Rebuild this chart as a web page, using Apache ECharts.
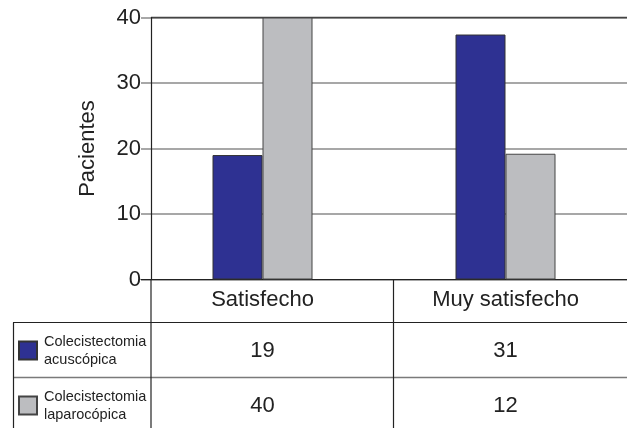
<!DOCTYPE html>
<html>
<head>
<meta charset="utf-8">
<script src="https://cdn.jsdelivr.net/npm/echarts@6/dist/echarts.min.js"></script>
<style>
html,body{margin:0;padding:0;background:#fff;}
#c{width:627px;height:428px;}
</style>
</head>
<body>
<div id="c"></div>
<script>
// ---- data ----
const categories = ['Satisfecho', 'Muy satisfecho'];
const seriesNames = ['Colecistectomia\nacuscópica', 'Colecistectomia\nlaparocópica'];
const acuscopicaBars = [19, 37.4];      // bar heights as drawn
const laparocopicaBars = [40, 19.2];    // bar heights as drawn
const acuscopicaTable = ['19', '31'];   // values printed in the table
const laparocopicaTable = ['40', '12'];
const yTicks = [0, 10, 20, 30, 40];

const FONT = '"Liberation Sans", Arial, Helvetica, sans-serif';
const chart = echarts.init(document.getElementById('c'), null, {renderer: 'canvas'});

const gridTop = 17.5, gridBottomY = 279.5;
const option = {
  backgroundColor: '#fff',
  animation: false,
  textStyle: {fontFamily: FONT},
  grid: {left: 141, top: gridTop, width: 494, height: gridBottomY - gridTop, containLabel: false},
  legend: {
    orient: 'vertical', left: 18, top: 332.5, padding: 0,
    itemWidth: 18, itemHeight: 18, itemGap: 19,
    icon: 'rect',
    textStyle: {fontSize: 14.5, lineHeight: 18, color: '#222', fontFamily: FONT, padding: [0, 0, 0, 2]},
    data: seriesNames
  },
  xAxis: {
    type: 'category',
    data: categories,
    axisLine: {show: true, lineStyle: {color: '#222', width: 1.2}},
    axisTick: {show: false},
    axisLabel: {fontSize: 22, color: '#222', margin: 9, fontFamily: FONT},
    splitLine: {show: false}
  },
  yAxis: {
    type: 'value',
    min: yTicks[0], max: yTicks[yTicks.length - 1], interval: 10,
    offset: -10,
    name: 'Pacientes',
    nameLocation: 'middle',
    nameRotate: 90,
    nameGap: 52,
    nameTextStyle: {fontSize: 22, color: '#222', fontFamily: FONT},
    axisLine: {show: true, lineStyle: {color: '#222', width: 1.2}},
    axisTick: {show: false},
    axisLabel: {fontSize: 22, color: '#222', margin: 10, fontFamily: FONT},
    splitLine: {show: true, lineStyle: {color: '#8a8a8a', width: 1.5}}
  },
  series: [
    {
      name: seriesNames[0], type: 'bar', data: acuscopicaBars,
      barWidth: 50, barGap: '0%',
      itemStyle: {color: '#2e3192', borderColor: '#333', borderWidth: 1}
    },
    {
      name: seriesNames[1], type: 'bar', data: laparocopicaBars,
      barWidth: 50, barGap: '0%',
      itemStyle: {color: '#bcbdc0', borderColor: '#444', borderWidth: 1}
    }
  ]
};
chart.setOption(option);

// ---- table drawn beneath the axis ----
const lineDark = {stroke: '#222', lineWidth: 1.2};
const lineGray = {stroke: '#7a7a7a', lineWidth: 1.5};
const g = [
  {type: 'line', shape: {x1: 151, y1: 17.5, x2: 627, y2: 17.5}, style: {stroke: '#444', lineWidth: 1.5}},
  {type: 'line', shape: {x1: 13, y1: 322.5, x2: 627, y2: 322.5}, style: lineDark},
  {type: 'line', shape: {x1: 13, y1: 377.5, x2: 627, y2: 377.5}, style: lineGray},
  {type: 'line', shape: {x1: 13.5, y1: 322.5, x2: 13.5, y2: 428}, style: lineDark},
  {type: 'line', shape: {x1: 151, y1: gridBottomY, x2: 151, y2: 428}, style: lineDark},
  {type: 'line', shape: {x1: 393.5, y1: gridBottomY, x2: 393.5, y2: 428}, style: lineDark}
];
const rowCenters = [350.5, 405.5];
[acuscopicaTable, laparocopicaTable].forEach(function (row, r) {
  row.forEach(function (txt, i) {
    const x = chart.convertToPixel({xAxisIndex: 0}, categories[i]);
    g.push({
      type: 'text', x: x, y: rowCenters[r],
      style: {text: txt, fontSize: 22, fill: '#222', fontFamily: FONT, textAlign: 'center', textVerticalAlign: 'middle'}
    });
  });
});
chart.setOption({graphic: g});
</script>
</body>
</html>
